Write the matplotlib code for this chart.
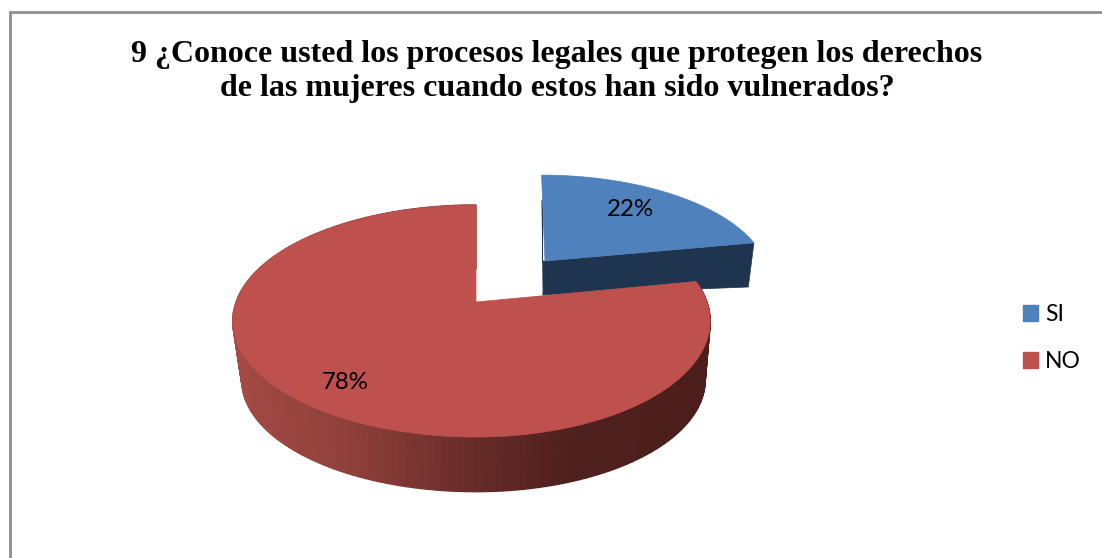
import matplotlib
matplotlib.use('Agg')
import matplotlib.pyplot as plt
import numpy as np
from matplotlib.colors import LinearSegmentedColormap

# Data
categories = ['SI', 'NO']
values = [22, 78]
value_labels = ['22%', '78%']
title = ('9 ¿Conoce usted los procesos legales que protegen los derechos\n'
         'de las mujeres cuando estos han sido vulnerados?')

BLUE = '#4F81BD'
BLUE_DARK = '#1F344F'
RED = '#BE504D'
PERSP = 0.164

# shading of the red side wall, left to right
wall_cmap = LinearSegmentedColormap.from_list(
    'wall', [(0.0, '#A54A45'), (0.25, '#8E3F3A'), (0.52, '#642A28'),
             (0.72, '#4E201E'), (1.0, '#4B1E1C')])


def project(angle, radius, geo):
    """Clockwise angle from 12 o'clock to picture coordinates, with perspective"""
    a = np.radians(angle)
    x = radius * np.sin(a)
    y = radius * np.cos(a)
    s = 1 / (1 + PERSP * y)
    rx = np.where(x < 0, geo['left'], geo['right'])
    return geo['cx'] + (rx * x + geo['lean'] * y) * s, geo['cy'] - geo['ry'] * y * s


def slice_outline(a1, a2, geo):
    ang = np.linspace(a1, a2, 200)
    xs, ys = project(ang, 1.0, geo)
    return np.r_[geo['cx'], xs], np.r_[geo['cy'], ys]


fig, ax = plt.subplots(figsize=(11.02, 5.58), dpi=100)
ax.set_position([0, 0, 1, 1])
ax.set_xlim(0, 1102)
ax.set_ylim(558, 0)
ax.axis('off')

# Frame runs off the right and bottom of the picture
ax.plot([9.5, 9.5, 1102], [558, 11.5, 11.5], color='#8E8E8E', lw=2.0,
        solid_joinstyle='miter')

ends = np.cumsum(values) / np.sum(values) * 360
starts = np.r_[0, ends[:-1]]

blue_top = dict(cx=545, cy=261, left=220, right=220, ry=100, lean=-4)
blue_base = dict(cx=543, cy=295, left=216, right=216, ry=44, lean=-3)
red_top = dict(cx=476, cy=302, left=240, right=231, ry=112.9, lean=0)
red_base = dict(cx=476, cy=362, left=231, right=226, ry=108.4, lean=0)

# Blue slice, pulled out of the pie: cut faces first
x0, y0 = project(starts[0], 1.0, blue_top)
ax.fill([blue_top['cx'] - 2.5, blue_top['cx'], blue_base['cx'], x0 + 0.5],
        [blue_top['cy'], blue_top['cy'], blue_base['cy'], y0 + 25],
        color=BLUE_DARK, lw=0.5)
xt, yt = project(ends[0], 1.0, blue_top)
xb, yb = project(ends[0], 1.0, blue_base)
ax.fill([blue_top['cx'], xt, xb, blue_base['cx']],
        [blue_top['cy'], yt, yb, blue_base['cy']], color=BLUE_DARK, lw=0.5)
xs, ys = slice_outline(starts[0], ends[0], blue_top)
ax.fill(xs, ys, color=BLUE, lw=0.5)

# Red slice: outer wall in thin strips so that the shading runs across it,
# on a plain underlay so the strip seams do not show
ang = np.linspace(starts[1], ends[1], 361)
xa, ya = project(ang, 1.0, red_top)
xc, yc = project(ang[::-1], 1.0, red_base)
ax.fill(np.r_[xa, xc], np.r_[ya, yc], color='#642A28', lw=0)
strips = np.linspace(starts[1], ends[1], 181)
for a1, a2 in zip(strips[:-1], strips[1:]):
    xa, ya = project(np.array([a1, a2]), 1.0, red_top)
    xc, yc = project(np.array([a2, a1]), 1.0, red_base)
    shade = (np.mean(xa) - 233) / (710 - 233)
    col = wall_cmap(np.clip(shade, 0, 1))
    ax.fill(np.r_[xa, xc], np.r_[ya, yc], color=col, lw=1.0)
xs, ys = slice_outline(starts[1], ends[1], red_top)
ax.fill(xs, ys, color=RED, lw=0.5)

# Percent labels sit on the mid angle of each slice
mids = (starts + ends) / 2
label_shift = [(-5, -1), (5, 3)]
for mid, lab, geo, frac, sh in zip(mids, value_labels, [blue_top, red_top], [0.72, 0.8], label_shift):
    lx, ly = project(mid, frac, geo)
    ax.text(float(lx) + sh[0], float(ly) + sh[1], lab, ha='center', va='center', color='black',
            family='Lato', fontsize=17.3)

ax.text(557, 71.5, title, ha='center', va='center', family='Liberation Serif',
        fontweight='bold', fontsize=23.0, color='black', linespacing=1.23)

handles = [plt.Rectangle((0, 0), 1, 1, color=c) for c in [BLUE, RED]]
ax.legend(handles, categories, loc='center left', bbox_to_anchor=(1023 / 1102, 1 - 338 / 558),
          frameon=False, prop={'family': 'Lato', 'size': 16.5},
          handlelength=0.66, handleheight=0.66, handletextpad=0.3,
          labelspacing=1.15, borderpad=0, borderaxespad=0)

plt.savefig('out.png', dpi=100)
plt.close()
